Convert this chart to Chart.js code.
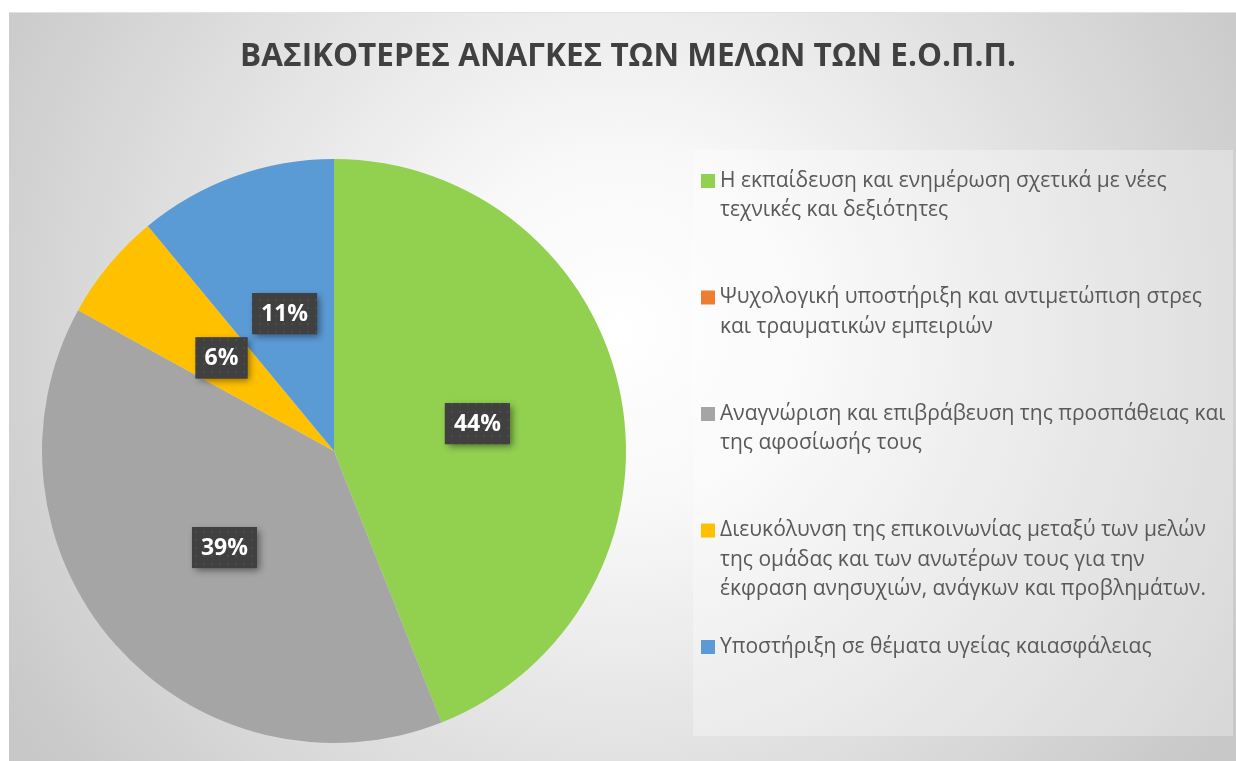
<!DOCTYPE html>
<html>
<head>
<meta charset="utf-8">
<script src="https://cdn.jsdelivr.net/npm/chart.js@4.4.1/dist/chart.umd.min.js"></script>
<style>
    html, body { margin: 0; padding: 0; background: #ffffff; }
    #needsChart { display: block; }
</style>
</head>
<body>
<canvas id="needsChart" width="1236" height="761"></canvas>
<script>
var chartTitle = 'ΒΑΣΙΚΟΤΕΡΕΣ ΑΝΑΓΚΕΣ ΤΩΝ ΜΕΛΩΝ ΤΩΝ Ε.Ο.Π.Π.';
var needLabels = [
    ['Η εκπαίδευση και ενημέρωση σχετικά με νέες', 'τεχνικές και δεξιότητες'],
    ['Ψυχολογική υποστήριξη και αντιμετώπιση στρες', 'και τραυματικών εμπειριών'],
    ['Αναγνώριση και επιβράβευση της προσπάθειας και', 'της αφοσίωσής τους'],
    ['Διευκόλυνση της επικοινωνίας μεταξύ των μελών', 'της ομάδας και των ανωτέρων τους για την', 'έκφραση ανησυχιών, ανάγκων και προβλημάτων.'],
    ['Υποστήριξη σε θέματα υγείας καιασφάλειας']
];
var needValues = [44, 0, 39, 6, 11];
var sliceColors = ['#92D050', '#ED7D31', '#A5A5A5', '#FFC000', '#5B9BD5'];

document.addEventListener('DOMContentLoaded', function () {
    // background: white page, chart frame with radial gradient
    var backgroundPlugin = {
        id: 'frameBackground',
        beforeDraw: function (chart) {
            var ctx = chart.ctx;
            ctx.save();
            ctx.fillStyle = '#ffffff';
            ctx.fillRect(0, 0, chart.width, chart.height);
            var g = ctx.createRadialGradient(620, 330, 0, 620, 330, 720);
            g.addColorStop(0, '#ffffff');
            g.addColorStop(0.25, '#f8f8f8');
            g.addColorStop(1, '#c8c8c8');
            ctx.fillStyle = g;
            ctx.fillRect(9, 12, chart.width - 9, chart.height - 12);
            ctx.strokeStyle = '#e2e2e2';
            ctx.lineWidth = 1;
            ctx.beginPath();
            ctx.moveTo(9, 12.5);
            ctx.lineTo(chart.width, 12.5);
            ctx.stroke();
            ctx.restore();
        }
    };

    var titlePlugin = {
        id: 'frameTitle',
        afterDraw: function (chart) {
            var ctx = chart.ctx;
            ctx.save();
            ctx.fillStyle = '#404040';
            ctx.font = 'bold 31.5px "Open Sans"';
            ctx.textAlign = 'center';
            ctx.textBaseline = 'middle';
            ctx.fillText(chartTitle, 628, 57);
            ctx.restore();
        }
    };

    // legend box on the right, one equal slot per category
    var legendPlugin = {
        id: 'sideLegend',
        afterDraw: function (chart) {
            var ctx = chart.ctx;
            var labels = chart.data.labels;
            var colors = chart.data.datasets[0].backgroundColor;
            ctx.save();
            ctx.fillStyle = 'rgba(255,255,255,0.3)';
            ctx.fillRect(693, 150, 540, 586);
            ctx.font = '21px "Open Sans"';
            ctx.textBaseline = 'middle';
            ctx.textAlign = 'left';
            for (var i = 0; i < labels.length; i++) {
                var y = 181 + i * 116.5;
                ctx.fillStyle = colors[i];
                ctx.fillRect(701, y - 7, 14, 14);
                ctx.fillStyle = '#595959';
                var lines = [].concat(labels[i]);
                for (var j = 0; j < lines.length; j++) {
                    ctx.fillText(lines[j], 720, y + j * 29.5);
                }
            }
            ctx.restore();
        }
    };

    // dark percentage boxes with a faint dot texture
    var dotTile = document.createElement('canvas');
    dotTile.width = 8;
    dotTile.height = 8;
    var tctx = dotTile.getContext('2d');
    tctx.fillStyle = '#404040';
    tctx.fillRect(0, 0, 8, 8);
    tctx.fillStyle = '#4c4c4c';
    tctx.fillRect(3, 3, 2, 2);

    var percentPlugin = {
        id: 'percentBoxes',
        afterDatasetsDraw: function (chart) {
            var ctx = chart.ctx;
            var meta = chart.getDatasetMeta(0);
            var values = chart.data.datasets[0].data;
            var total = values.reduce(function (a, b) { return a + b; }, 0);
            var pattern = ctx.createPattern(dotTile, 'repeat');
            ctx.save();
            ctx.font = 'bold 23px "Open Sans"';
            ctx.textAlign = 'center';
            ctx.textBaseline = 'middle';
            meta.data.forEach(function (arc, i) {
                if (!values[i]) return;
                var pos = arc.tooltipPosition();
                var text = Math.round(values[i] / total * 100) + '%';
                var w = ctx.measureText(text).width + 18;
                var h = 41;
                ctx.save();
                ctx.shadowColor = 'rgba(0,0,0,0.45)';
                ctx.shadowBlur = 7;
                ctx.shadowOffsetX = 3;
                ctx.shadowOffsetY = 3;
                ctx.fillStyle = '#404040';
                ctx.fillRect(pos.x - w / 2, pos.y - h / 2, w, h);
                ctx.restore();
                ctx.fillStyle = pattern;
                ctx.fillRect(pos.x - w / 2, pos.y - h / 2, w, h);
                ctx.fillStyle = '#ffffff';
                ctx.fillText(text, pos.x, pos.y + 1);
            });
            ctx.restore();
        }
    };

    var ctx = document.getElementById('needsChart').getContext('2d');
    new Chart(ctx, {
        type: 'pie',
        data: {
            labels: needLabels,
            datasets: [{
                data: needValues,
                backgroundColor: sliceColors,
                borderWidth: 0
            }]
        },
        options: {
            responsive: false,
            devicePixelRatio: 1,
            animation: false,
            layout: { padding: { left: 42, top: 159, right: 610, bottom: 18 } },
            plugins: {
                legend: { display: false },
                title: { display: false },
                tooltip: { enabled: false }
            }
        },
        plugins: [backgroundPlugin, percentPlugin, legendPlugin, titlePlugin]
    });
});
</script>
</body>
</html>
